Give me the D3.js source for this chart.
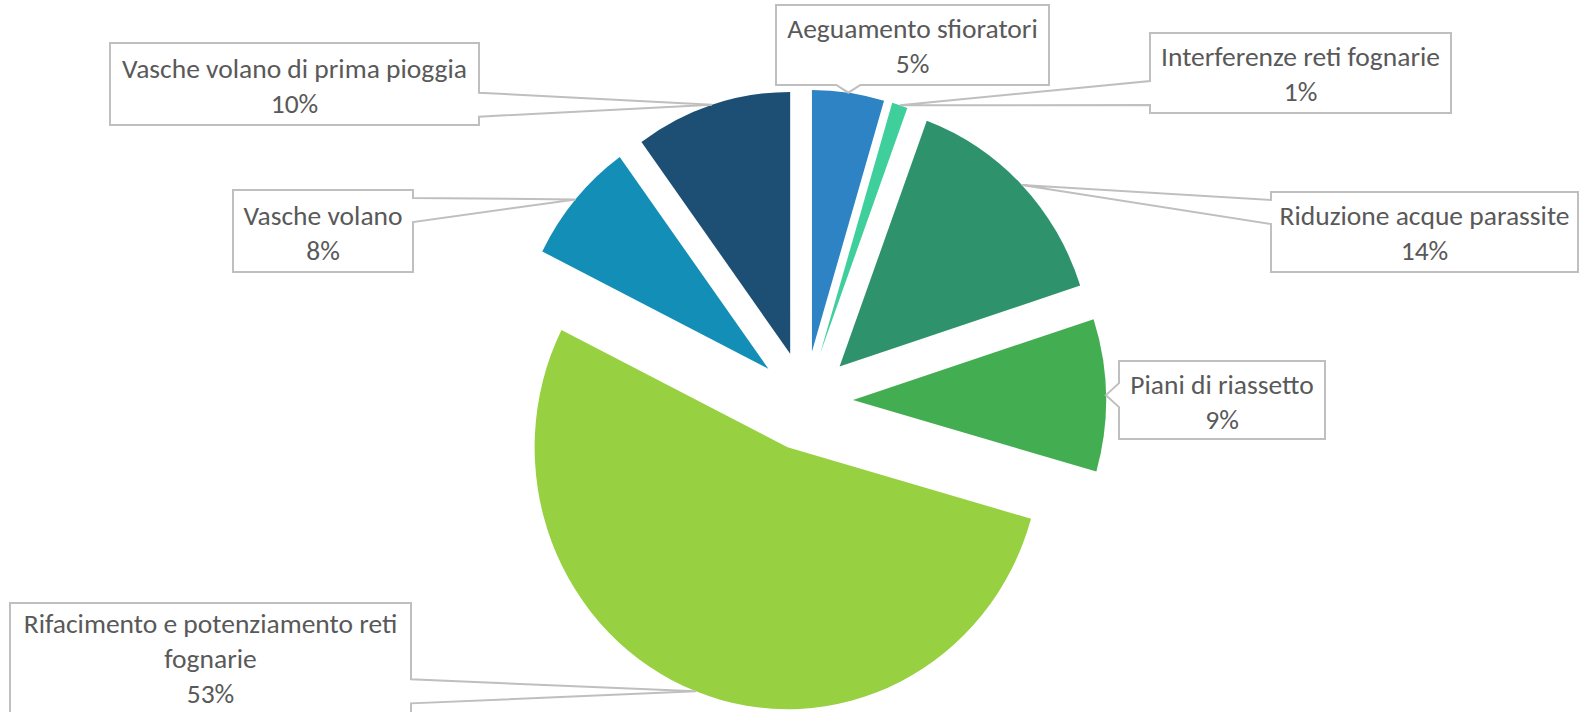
<!DOCTYPE html>
<html>
<head>
<meta charset="utf-8">
<script src="https://cdn.jsdelivr.net/npm/d3@7"></script>
<style>
  body { margin: 0; background: #fff; }
  svg { display: block; }
</style>
</head>
<body>
<svg id="chart"></svg>
<script>
/*** DEFINE CONSTANTS HERE ***/
WIDTH = 1580;
HEIGHT = 712;

// pie geometry (the source picture is a bit taller than wide)
const CX = 805;
const CY = 401;
const RADIUS = 253;
const EXPLODE = 48;
const Y_STRETCH = 1.035;

const FONT = "Carlito, Calibri, Lato, sans-serif";
const FONT_SIZE = 27.5;
const LINE_H = 35;

// Data
const categories = [
  "Aeguamento sfioratori",
  "Interferenze reti fognarie",
  "Riduzione acque parassite",
  "Piani di riassetto",
  "Rifacimento e potenziamento reti fognarie",
  "Vasche volano",
  "Vasche volano di prima pioggia"
];
const shares = [4.6, 1.0, 14.4, 9.4, 53.0, 7.6, 10.0];
const pctLabels = ["5%", "1%", "14%", "9%", "53%", "8%", "10%"];
const colors = ["#2e83c4", "#3fcf9c", "#2e936c", "#43ae51", "#97d141", "#138eb6", "#1d4f75"];

// label text is wrapped by hand, like the Excel callouts
const labelLines = [
  ["Aeguamento sfioratori"],
  ["Interferenze reti fognarie"],
  ["Riduzione acque parassite"],
  ["Piani di riassetto"],
  ["Rifacimento e potenziamento reti", "fognarie"],
  ["Vasche volano"],
  ["Vasche volano di prima pioggia"]
];

// callout boxes: x, y, w, h, first baseline offset
const boxes = [
  {x: 776, y: 5, w: 273, h: 80, b: 33},
  {x: 1150, y: 33, w: 301, h: 80, b: 33},
  {x: 1271, y: 192, w: 307, h: 80, b: 33},
  {x: 1119, y: 361, w: 206, h: 78, b: 33},
  {x: 10, y: 603, w: 401, h: 160, b: 30},
  {x: 233, y: 190, w: 180, h: 82, b: 35},
  {x: 110, y: 43, w: 369, h: 82, b: 35}
];

const svg = d3.select("#chart")
  .attr("width", WIDTH)
  .attr("height", HEIGHT);

const pie = d3.pie().sort(null).value(d => d);
const arc = d3.arc().innerRadius(0).outerRadius(RADIUS);
const slices = pie(shares);

// offset of each exploded slice, in pie coordinates
function explodeOffset(d) {
  var mid = (d.startAngle + d.endAngle) / 2;
  return [Math.sin(mid) * EXPLODE, -Math.cos(mid) * EXPLODE];
}

// point on the outer rim at the middle of a slice, in page coordinates
function rimPoint(d) {
  var mid = (d.startAngle + d.endAngle) / 2;
  var off = explodeOffset(d);
  var px = off[0] + Math.sin(mid) * RADIUS;
  var py = off[1] - Math.cos(mid) * RADIUS;
  return [CX + px, CY + py * Y_STRETCH];
}

const pieG = svg.append("g")
  .attr("transform", `translate(${CX},${CY}) scale(1,${Y_STRETCH})`);

pieG.selectAll("path")
  .data(slices)
  .join("path")
  .attr("d", arc)
  .attr("transform", d => `translate(${explodeOffset(d)})`)
  .attr("fill", (d, i) => colors[i]);

// Callouts
function calloutPath(b, tip) {
  const HALF = 12;
  var x0 = b.x, y0 = b.y, x1 = b.x + b.w, y1 = b.y + b.h;
  var clamp = (v, lo, hi) => Math.max(lo + 8 + HALF, Math.min(hi - 8 - HALF, v));
  var p = [];
  if (tip[0] > x1) {
    var c = clamp(tip[1], y0, y1);
    p = [[x0, y0], [x1, y0], [x1, c - HALF], tip, [x1, c + HALF], [x1, y1], [x0, y1]];
  } else if (tip[0] < x0) {
    var c = clamp(tip[1], y0, y1);
    p = [[x0, y0], [x1, y0], [x1, y1], [x0, y1], [x0, c + HALF], tip, [x0, c - HALF]];
  } else if (tip[1] > y1) {
    var c = clamp(tip[0], x0, x1);
    p = [[x0, y0], [x1, y0], [x1, y1], [c + HALF, y1], tip, [c - HALF, y1], [x0, y1]];
  } else {
    var c = clamp(tip[0], x0, x1);
    p = [[x0, y0], [c - HALF, y0], tip, [c + HALF, y0], [x1, y0], [x1, y1], [x0, y1]];
  }
  return d3.line()(p) + "Z";
}

const labels = svg.append("g")
  .selectAll("g")
  .data(slices)
  .join("g");

labels.append("path")
  .attr("d", (d, i) => calloutPath(boxes[i], rimPoint(d)))
  .attr("fill", "#fff")
  .attr("stroke", "#bfbfbf")
  .attr("stroke-width", 2)
  .attr("stroke-linejoin", "miter");

labels.append("text")
  .attr("x", (d, i) => boxes[i].x + boxes[i].w / 2)
  .attr("y", (d, i) => boxes[i].y + boxes[i].b)
  .attr("text-anchor", "middle")
  .attr("font-family", FONT)
  .attr("font-size", FONT_SIZE)
  .attr("fill", "#595959")
  .each(function (d, i) {
    var t = d3.select(this);
    labelLines[i].concat([pctLabels[i]]).forEach((line, k) => {
      t.append("tspan")
        .attr("x", boxes[i].x + boxes[i].w / 2)
        .attr("dy", k === 0 ? 0 : LINE_H)
        .text(line);
    });
  });
</script>
</body>
</html>
